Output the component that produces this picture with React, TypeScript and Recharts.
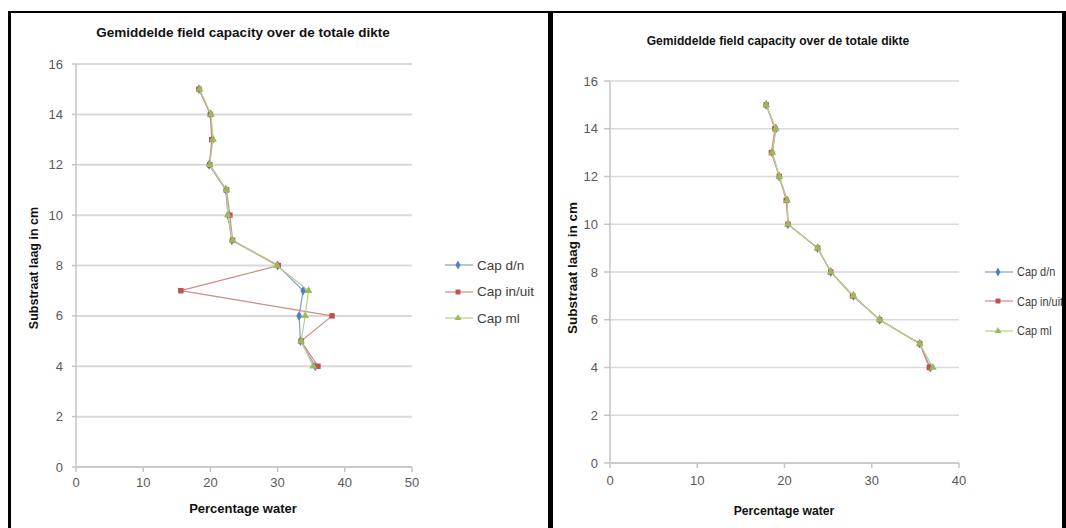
import { ScatterChart, Scatter, XAxis, YAxis, CartesianGrid, Legend, Symbols } from "recharts";

// depth of each measured layer (cm), shared by both panels
const depths = [15, 14, 13, 12, 11, 10, 9, 8, 7, 6, 5, 4];

// left panel: field capacity (% water) per layer
const leftCapDn = [18.3, 20.0, 20.3, 19.8, 22.3, 22.6, 23.2, 30.0, 33.8, 33.2, 33.4, 35.6];
const leftCapInUit = [18.3, 20.0, 20.2, 19.9, 22.4, 22.9, 23.3, 30.1, 15.6, 38.1, 33.5, 36.0];
const leftCapMl = [18.4, 20.1, 20.4, 19.9, 22.4, 22.6, 23.3, 29.9, 34.6, 34.1, 33.5, 35.3];

// right panel
const rightCapDn = [17.9, 19.0, 18.6, 19.4, 20.3, 20.4, 23.8, 25.3, 27.9, 30.9, 35.5, 36.7];
const rightCapInUit = [17.9, 18.9, 18.5, 19.4, 20.2, 20.4, 23.8, 25.3, 27.8, 30.9, 35.5, 36.6];
const rightCapMl = [17.9, 19.0, 18.6, 19.4, 20.3, 20.4, 23.8, 25.3, 27.9, 30.9, 35.5, 37.0];

const seriesNames = ["Cap d/n", "Cap in/uit", "Cap ml"];
const yTicks = [0, 2, 4, 6, 8, 10, 12, 14, 16];
const leftXTicks = [0, 10, 20, 30, 40, 50];
const rightXTicks = [0, 10, 20, 30, 40];

const title = "Gemiddelde field capacity over de totale dikte";
const xTitle = "Percentage water";
const yTitle = "Substraat laag in cm";

const seriesStyle = [
  { line: "#7d9fcf", fill: "#4F81BD", shape: "diamond" as const, size: 28 },
  { line: "#d08a88", fill: "#C0504D", shape: "square" as const, size: 30 },
  { line: "#b9cf8a", fill: "#9BBB59", shape: "triangle" as const, size: 26 },
];

const toPoints = (values: number[]) => values.map((v, i) => ({ water: v, depth: depths[i] }));

const mainFont = "'Liberation Sans', Arial, sans-serif";

// small excel-style marker, fixed size
const marker = (i: number) => (props: any) => (
  <Symbols cx={props.cx} cy={props.cy} type={seriesStyle[i].shape} size={seriesStyle[i].size} fill={seriesStyle[i].fill} />
);

function LegendRows({ rowHeight, fontSize, squeeze }: { rowHeight: number; fontSize: number; squeeze: number }) {
  return (
    <div style={{ fontFamily: mainFont, fontSize, color: "#404040" }}>
      {seriesNames.map((name, i) => (
        <div key={name} style={{ height: rowHeight, display: "flex", alignItems: "center", whiteSpace: "nowrap" }}>
          <svg width={28} height={10} style={{ marginRight: 4 }}>
            <line x1={0} y1={5} x2={28} y2={5} stroke={seriesStyle[i].line} strokeWidth={1.2} />
            <Symbols cx={13} cy={5} type={seriesStyle[i].shape} size={seriesStyle[i].size * 0.8} fill={seriesStyle[i].fill} />
          </svg>
          <span style={{ display: "inline-block", transform: `scaleX(${squeeze})`, transformOrigin: "left center" }}>{name}</span>
        </div>
      ))}
    </div>
  );
}

interface PanelProps {
  left: number;
  width: number;
  margin: { top: number; right: number; bottom: number; left: number };
  yAxisWidth: number;
  xMax: number;
  xTicks: number[];
  values: number[][];
  tickFontSize: number;
  gridWidth: number;
  yTick: { size: number; margin: number };
  xTick: { size: number; margin: number };
  legendPos: { left: number; top: number; rowHeight: number; fontSize: number; squeeze: number };
}

function Panel(p: PanelProps) {
  const tick = { fontSize: p.tickFontSize, fill: "#595959", fontFamily: mainFont };
  return (
    <div style={{ position: "absolute", left: p.left, top: 0 }}>
      <ScatterChart width={p.width} height={528} margin={p.margin}>
        <CartesianGrid vertical={false} stroke="#d9d9d9" strokeWidth={p.gridWidth} />
        <XAxis
          type="number"
          dataKey="water"
          domain={[0, p.xMax]}
          ticks={p.xTicks}
          height={30}
          tick={tick}
          tickSize={p.xTick.size}
          tickMargin={p.xTick.margin}
          stroke="#c4c4c4"
          strokeWidth={1.5}
        />
        <YAxis
          type="number"
          dataKey="depth"
          domain={[0, 16]}
          ticks={yTicks}
          width={p.yAxisWidth}
          tick={tick}
          tickSize={p.yTick.size}
          tickMargin={p.yTick.margin}
          stroke="#c4c4c4"
          strokeWidth={1.5}
        />
        {p.values.map((vals, i) => (
          <Scatter
            key={seriesNames[i]}
            name={seriesNames[i]}
            data={toPoints(vals)}
            fill={seriesStyle[i].fill}
            shape={marker(i)}
            line={{ stroke: seriesStyle[i].line, strokeWidth: 1.2 }}
            lineType="joint"
            isAnimationActive={false}
          />
        ))}
        <Legend
          layout="vertical"
          align="center"
          verticalAlign="middle"
          wrapperStyle={{ left: p.legendPos.left, top: p.legendPos.top, width: "auto" }}
          content={() => (
            <LegendRows rowHeight={p.legendPos.rowHeight} fontSize={p.legendPos.fontSize} squeeze={p.legendPos.squeeze} />
          )}
        />
      </ScatterChart>
    </div>
  );
}

function Caption({ x, y, text, size, squeeze = 1, rotate }: { x: number; y: number; text: string; size: number; squeeze?: number; rotate?: boolean }) {
  return (
    <div
      style={{
        position: "absolute",
        left: x,
        top: y,
        transform: `translate(-50%, -50%)${rotate ? " rotate(-90deg)" : ""} scaleX(${squeeze})`,
        fontFamily: mainFont,
        fontSize: size,
        fontWeight: "bold",
        color: "#111",
        whiteSpace: "nowrap",
      }}
    >
      {text}
    </div>
  );
}

const border = (left: number, top: number, width: number, height: number) => (
  <div style={{ position: "absolute", left, top, width, height, background: "#000" }} />
);

export default function App() {
  return (
    <div style={{ position: "absolute", left: 0, top: 0, width: 1066, height: 528, background: "#fff", overflow: "hidden" }}>
      <Panel
        left={0}
        width={545}
        margin={{ top: 64, right: 133, bottom: 31, left: 0 }}
        yAxisWidth={76}
        xMax={50}
        xTicks={leftXTicks}
        values={[leftCapDn, leftCapInUit, leftCapMl]}
        tickFontSize={13}
        gridWidth={2}
        yTick={{ size: 4, margin: 9 }}
        xTick={{ size: 5, margin: 6 }}
        legendPos={{ left: 445, top: 252, rowHeight: 26.5, fontSize: 13.5, squeeze: 1 }}
      />
      <Panel
        left={553}
        width={513}
        margin={{ top: 81, right: 107, bottom: 35, left: 0 }}
        yAxisWidth={57}
        xMax={40}
        xTicks={rightXTicks}
        values={[rightCapDn, rightCapInUit, rightCapMl]}
        tickFontSize={13}
        gridWidth={1.5}
        yTick={{ size: 6, margin: 6 }}
        xTick={{ size: 5, margin: 8 }}
        legendPos={{ left: 432, top: 257, rowHeight: 29.5, fontSize: 13, squeeze: 0.84 }}
      />

      <Caption x={243} y={32} text={title} size={13.5} />
      <Caption x={243} y={508} text={xTitle} size={13} />
      <Caption x={34} y={268} text={yTitle} size={12.5} rotate />

      <Caption x={778} y={40} text={title} size={13} squeeze={0.93} />
      <Caption x={784} y={510} text={xTitle} size={13.5} squeeze={0.9} />
      <Caption x={572} y={268} text={yTitle} size={13.5} rotate />

      {border(8, 11, 1058, 2)}
      {border(8, 11, 3, 517)}
      {border(548, 11, 5, 517)}
      {border(1062, 11, 4, 517)}
    </div>
  );
}
